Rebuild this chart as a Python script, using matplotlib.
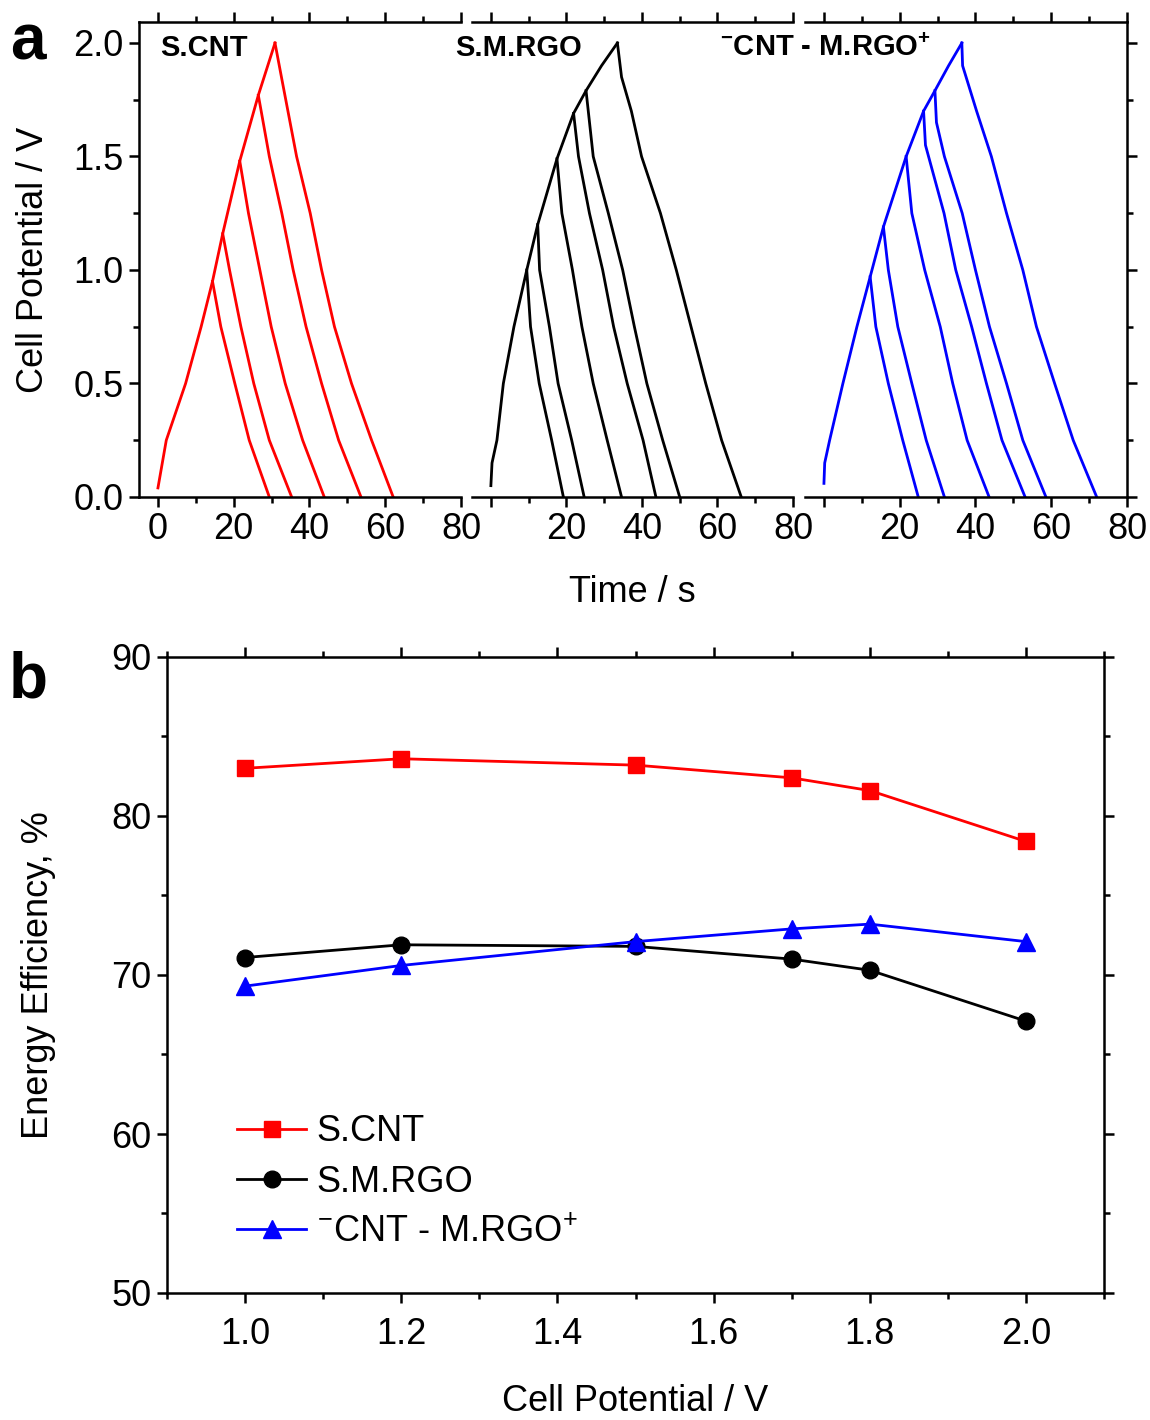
import matplotlib
matplotlib.use("Agg")
import matplotlib.pyplot as plt
from matplotlib.ticker import MultipleLocator

plt.rcParams["font.family"] = ["Liberation Sans", "DejaVu Sans"]
plt.rcParams["mathtext.default"] = "regular"

# ---- panel a : charge / discharge curves (time in s, potential in V) ----
scnt_charge_t = [0, 2.2, 7.3, 11.4, 14.4, 17.1, 21.6, 26.5, 30.9]
scnt_charge_v = [0.04, 0.25, 0.50, 0.75, 0.95, 1.16, 1.48, 1.77, 2.0]
scnt_dis_t = [[14.4, 16.6, 20.3, 24.1, 29.4],
              [17.1, 18.9, 21.9, 25.3, 29.4, 35.3],
              [21.6, 23.9, 26.9, 29.9, 33.6, 38.2, 43.9],
              [26.5, 29.4, 32.7, 35.7, 39.1, 43.2, 47.7, 53.6],
              [30.9, 32.6, 36.6, 40.2, 43.2, 46.6, 51.1, 56.4, 62.1]]
scnt_dis_v = [[0.95, 0.75, 0.5, 0.25, 0],
              [1.16, 1.0, 0.75, 0.5, 0.25, 0],
              [1.48, 1.25, 1.0, 0.75, 0.5, 0.25, 0],
              [1.77, 1.5, 1.25, 1.0, 0.75, 0.5, 0.25, 0],
              [2.0, 1.85, 1.5, 1.25, 1.0, 0.75, 0.5, 0.25, 0]]

smrgo_charge_t = [0, 0.3, 1.6, 3.3, 6.1, 9.5, 12.4, 17.5, 21.9, 25.2, 29.3, 33.5]
smrgo_charge_v = [0.05, 0.15, 0.25, 0.5, 0.75, 1.0, 1.2, 1.49, 1.69, 1.79, 1.9, 2.0]
smrgo_dis_t = [[9.5, 10.5, 12.8, 16.1, 19.2],
               [12.4, 12.9, 15.5, 17.8, 21.4, 24.7],
               [17.5, 18.8, 21.6, 24.1, 27.1, 30.8, 34.6],
               [21.9, 23.2, 26.1, 29.6, 32.5, 36.1, 40.3, 43.7],
               [25.2, 27.1, 31.1, 34.9, 38.0, 41.3, 45.5, 50.0],
               [33.5, 34.6, 37.2, 39.9, 44.9, 49.1, 53.0, 56.9, 61.1, 66.3]]
smrgo_dis_v = [[1.0, 0.75, 0.5, 0.25, 0],
               [1.2, 1.0, 0.75, 0.5, 0.25, 0],
               [1.49, 1.25, 1.0, 0.75, 0.5, 0.25, 0],
               [1.69, 1.5, 1.25, 1.0, 0.75, 0.5, 0.25, 0],
               [1.79, 1.5, 1.25, 1.0, 0.75, 0.5, 0.25, 0],
               [2.0, 1.85, 1.7, 1.5, 1.25, 1.0, 0.75, 0.5, 0.25, 0]]

hyb_charge_t = [0, 0.2, 1.5, 5.0, 8.7, 12.2, 15.7, 21.7, 26.3, 29.3, 32.9, 36.4]
hyb_charge_v = [0.06, 0.15, 0.25, 0.5, 0.75, 0.97, 1.19, 1.5, 1.7, 1.79, 1.9, 2.0]
hyb_dis_t = [[12.2, 13.7, 17.0, 20.8, 24.9],
             [15.7, 17.0, 19.5, 23.2, 27.0, 31.8],
             [21.7, 23.2, 26.6, 30.7, 34.0, 37.8, 43.6],
             [26.3, 26.8, 31.7, 34.8, 39.0, 42.9, 47.0, 53.1],
             [29.3, 29.7, 31.8, 36.5, 40.0, 43.7, 48.2, 52.5, 58.6],
             [36.4, 36.6, 40.3, 44.2, 48.2, 52.5, 56.1, 60.9, 65.8, 72.0]]
hyb_dis_v = [[0.97, 0.75, 0.5, 0.25, 0],
             [1.19, 1.0, 0.75, 0.5, 0.25, 0],
             [1.5, 1.25, 1.0, 0.75, 0.5, 0.25, 0],
             [1.7, 1.55, 1.25, 1.0, 0.75, 0.5, 0.25, 0],
             [1.79, 1.65, 1.5, 1.25, 1.0, 0.75, 0.5, 0.25, 0],
             [2.0, 1.9, 1.7, 1.5, 1.25, 1.0, 0.75, 0.5, 0.25, 0]]

# ---- panel b : energy efficiency ----
potential = [1.0, 1.2, 1.5, 1.7, 1.8, 2.0]
eff_scnt = [83.0, 83.6, 83.2, 82.4, 81.6, 78.4]
eff_smrgo = [71.1, 71.9, 71.8, 71.0, 70.3, 67.1]
eff_hyb = [69.3, 70.6, 72.1, 72.9, 73.2, 72.1]

W, H = 1150, 1420
fig = plt.figure(figsize=(W / 100, H / 100), dpi=100)

def rect(x0, x1, y0, y1):
    # pixel box -> figure fraction
    return [x0 / W, 1 - y1 / H, (x1 - x0) / W, (y1 - y0) / H]

lw_ax = 1.8
tick_fs = 26

panels = [
    (rect(139, 461, 22, 497), scnt_charge_t, scnt_charge_v, scnt_dis_t, scnt_dis_v, "red"),
    (rect(472, 793, 22, 497), smrgo_charge_t, smrgo_charge_v, smrgo_dis_t, smrgo_dis_v, "black"),
    (rect(805, 1127, 22, 497), hyb_charge_t, hyb_charge_v, hyb_dis_t, hyb_dis_v, "blue"),
]

for i, (r, ct, cv, dts, dvs, col) in enumerate(panels):
    ax = fig.add_axes(r)
    ax.plot(ct, cv, color=col, lw=2.0, solid_joinstyle="round")
    for dt, dv in zip(dts, dvs):
        ax.plot(dt, dv, color=col, lw=2.0, solid_joinstyle="round")
    ax.set_xlim(-5, 80)
    ax.set_ylim(0, 2.0925)
    ax.xaxis.set_minor_locator(MultipleLocator(10))
    ax.yaxis.set_minor_locator(MultipleLocator(0.25))
    for s in ax.spines.values():
        s.set_linewidth(lw_ax)
    ax.tick_params(which="both", direction="out", width=lw_ax, top=True,
                   labelsize=tick_fs, pad=4)
    ax.tick_params(which="major", length=7)
    ax.tick_params(which="minor", length=4)
    ax.set_yticks([0, 0.5, 1.0, 1.5, 2.0])
    ax.set_xticks([0, 20, 40, 60, 80])
    if i == 0:
        ax.spines["right"].set_visible(False)
        ax.tick_params(axis="y", which="both", right=False)
        ax.set_yticklabels(["0.0", "0.5", "1.0", "1.5", "2.0"])
        ax.set_ylabel("Cell Potential / V", fontsize=26, labelpad=16)
    elif i == 1:
        ax.spines["left"].set_visible(False)
        ax.spines["right"].set_visible(False)
        ax.tick_params(axis="y", which="both", left=False, right=False, labelleft=False)
        ax.set_xticklabels(["", "20", "40", "60", "80"])
        ax.set_xlabel("Time / s", fontsize=26, labelpad=20)
    else:
        ax.spines["left"].set_visible(False)
        ax.tick_params(axis="y", which="both", left=False, right=True, labelleft=False)
        ax.set_xticklabels(["", "20", "40", "60", "80"])

fig.text(160 / W, 1 - 48 / H, "S.CNT", fontsize=21, fontweight="bold", va="center", ha="left")
fig.text(455 / W, 1 - 48 / H, "S.M.RGO", fontsize=21, fontweight="bold", va="center", ha="left")
fig.text(720 / W, 1 - 48 / H, r"$^{-}$CNT - M.RGO$^{+}$", fontsize=21, fontweight="bold",
         va="center", ha="left")

fig.text(28 / W, 1 - 42 / H, "a", fontsize=46, fontweight="bold", va="center", ha="center")
fig.text(28 / W, 1 - 680 / H, "b", fontsize=46, fontweight="bold", va="center", ha="center")

# ---- panel b ----
axb = fig.add_axes(rect(167, 1104, 657, 1293))
axb.plot(potential, eff_scnt, color="#ff0000", marker="s", ms=11, lw=2.0, label="S.CNT")
axb.plot(potential, eff_smrgo, color="black", marker="o", ms=12, lw=2.0, label="S.M.RGO")
axb.plot(potential, eff_hyb, color="#0000ff", marker="^", ms=13, lw=2.0,
         label=r"$^{-}$CNT - M.RGO$^{+}$")
axb.set_xlim(0.9, 2.1)
axb.set_ylim(50, 90)
axb.xaxis.set_minor_locator(MultipleLocator(0.1))
axb.yaxis.set_major_locator(MultipleLocator(10))
axb.yaxis.set_minor_locator(MultipleLocator(5))
axb.set_xticks([1.0, 1.2, 1.4, 1.6, 1.8, 2.0])
for s in axb.spines.values():
    s.set_linewidth(lw_ax)
axb.tick_params(which="both", direction="out", width=lw_ax, top=True, right=True,
                labelsize=tick_fs, pad=4)
axb.tick_params(axis="x", pad=10)
axb.tick_params(which="major", length=7)
axb.tick_params(which="minor", length=4)
axb.set_xlabel("Cell Potential / V", fontsize=26, labelpad=23)
axb.set_ylabel("Energy Efficiency, %", fontsize=26, labelpad=40)
axb.legend(loc="lower left", bbox_to_anchor=(0.075, 0.068), frameon=False,
           fontsize=26, handlelength=1.9, handletextpad=0.3, labelspacing=0.42,
           borderpad=0, borderaxespad=0)

fig.savefig("out.png", dpi=100)
